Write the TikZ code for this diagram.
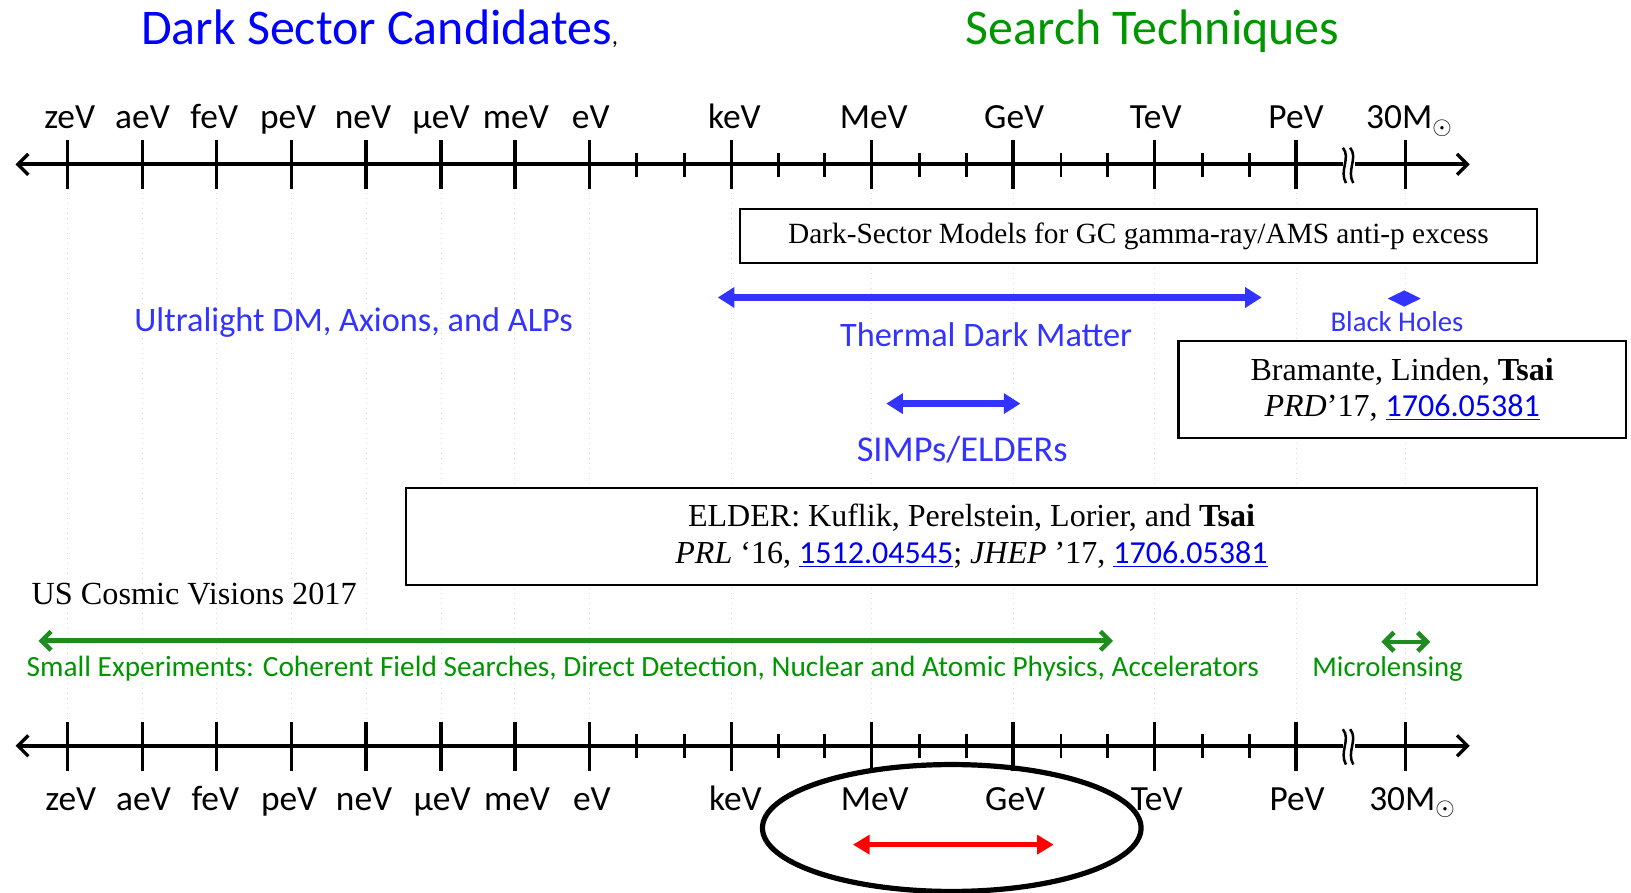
\documentclass[tikz,border=0pt]{standalone}
\usepackage{fontspec}
\setmainfont{Liberation Serif}
\newfontfamily\calib{Carlito}
\usetikzlibrary{arrows.meta,shapes.geometric}
\definecolor{dsblue}{RGB}{0,0,255}
\definecolor{lblue}{RGB}{51,51,255}
\definecolor{stgreen}{RGB}{0,150,0}
\definecolor{arrgreen}{RGB}{30,140,30}
\definecolor{linkblue}{RGB}{0,0,238}
\newcommand{\lnk}[1]{\textcolor{linkblue}{\underline{\calib #1}}}
\begin{document}
\begin{tikzpicture}[x=0.5pt,y=-0.5pt,
  axisline/.style={line width=1.9pt,
    {Straight Barb[length=5pt,width=10pt,line width=1.6pt]}-{Straight Barb[length=5pt,width=10pt,line width=1.6pt]}},
  majortick/.style={line width=1.6pt},
  minortick/.style={line width=1.4pt},
  gridline/.style={black!14, dotted, line width=0.4pt},
  unitlabel/.style={anchor=base, inner sep=0pt, font=\calib\fontsize{17}{20}\selectfont},
  heading/.style={anchor=base, inner sep=0pt, font=\calib\fontsize{24}{28}\selectfont},
  candlabel/.style={anchor=base, inner sep=0pt, text=lblue, font=\calib\fontsize{16.5}{20}\selectfont},
  smalllabel/.style={anchor=base, inner sep=0pt, font=\calib\fontsize{13.8}{16}\selectfont},
  refbox/.style={draw, line width=1pt, fill=white, align=center, inner sep=0pt,
    font=\fontsize{15.4}{17.5}\selectfont},
  bluearrow/.style={lblue, line width=3.2pt, {Triangle[length=8pt,width=9.5pt]}-{Triangle[length=8pt,width=9.5pt]}},
  greenarrow/.style={arrgreen, line width=2.2pt,
    {Straight Barb[length=4.5pt,width=9pt,line width=2.2pt]}-{Straight Barb[length=4.5pt,width=9pt,line width=2.2pt]}},
  redarrow/.style={red, line width=2.5pt, {Triangle[length=8pt,width=9pt]}-{Triangle[length=8pt,width=9pt]}},
]
\useasboundingbox (0,0) rectangle (1568,858);

% faint guide lines at the decade ticks
\foreach \x in {65,137,208,280,352,424,495,567,703,838,974,1110,1246,1351}
  \draw[gridline] (\x,186) -- (\x,692);

% headings
\node[heading, text=dsblue] (hcand) at (365,43) {Dark Sector Candidates\textcolor{black}{\fontsize{12}{12}\selectfont,}};
\node[heading, text=stgreen] (htech) at (1108,43) {Search Techniques};

% ---------- energy axes ----------
\foreach \ay/\nm in {158/top,717/bot}{
  \coordinate (\nm L) at (15,\ay);
  \coordinate (\nm R) at (1413,\ay);
  \draw[axisline] (\nm L) -- (\nm R);
  \foreach \x in {65,137,208,280,352,424,495,567,703,838,974,1110,1246,1351}
    \draw[majortick] (\x,\ay-23) -- (\x,\ay+24);
  \foreach \x in {612,658,748,793,884,929,1020,1065,1156,1201}
    \draw[minortick] (\x,\ay-11) -- (\x,\ay+12);
  % axis break
  \fill[white] (1291,\ay-14) rectangle (1303,\ay+14);
  \draw[line width=1.2pt] (1291,\ay-16) .. controls (1299,\ay-6) and (1287,\ay+6) .. (1294,\ay+18);
  \draw[line width=1.2pt] (1298,\ay-16) .. controls (1306,\ay-6) and (1294,\ay+6) .. (1301,\ay+18);
}

% unit labels, above the top axis and below the bottom axis
\foreach \x/\u [count=\i] in {67/zeV,137/aeV,206/feV,277/peV,349/neV,424/µeV,496/meV,568/eV,706/keV,840/MeV,975/GeV,1111/TeV,1246/PeV}{
  \node[unitlabel] (tu\i) at (\x,124) {\u};
  \node[unitlabel] (bu\i) at (\x+1,779) {\u};
}
\node[unitlabel] (tu14) at (1355,124) {30M$_{\odot}$};
\node[unitlabel] (bu14) at (1358,779) {30M$_{\odot}$};

% ---------- dark sector candidates ----------
\node[refbox, minimum width=383.5pt, minimum height=26pt, font=\fontsize{14.1}{17}\selectfont] (gcbox) at (1094.5,227)
  {Dark-Sector Models for GC gamma-ray/AMS anti-p excess};

\node[candlabel] (ulight) at (340,319) {Ultralight DM, Axions, and ALPs};

\coordinate (thL) at (690,286);
\coordinate (thR) at (1213,286);
\draw[bluearrow] (thL) -- (thR);
\node[candlabel] (thermal) at (948,333) {Thermal Dark Matter};

\node[diamond, fill=lblue, aspect=2, minimum width=16pt, minimum height=8pt, inner sep=0pt] (bhmark) at (1350,287) {};
\node[smalllabel, text=lblue] (bh) at (1343,319) {Black Holes};

\node[refbox, minimum width=215pt, minimum height=46.5pt] (bramante) at (1348,374.5)
  {Bramante, Linden, \textbf{Tsai}\\ \textit{PRD}'17, \lnk{1706.05381}};

\coordinate (siL) at (852,388);
\coordinate (siR) at (981,388);
\draw[bluearrow] (siL) -- (siR);
\node[candlabel, font=\calib\fontsize{17.5}{20}\selectfont] (simps) at (925,444) {SIMPs/ELDERs};

\node[refbox, minimum width=544pt, minimum height=46.5pt] (elder) at (934,515.5)
  {ELDER: Kuflik, Perelstein, Lorier, and \textbf{Tsai}\\
   \textit{PRL} `16, \lnk{1512.04545}; \textit{JHEP} '17, \lnk{1706.05381}};

% ---------- search techniques ----------
\node[anchor=base west, inner sep=0pt, font=\fontsize{15.5}{18}\selectfont] (cosmic) at (30,581) {US Cosmic Visions 2017};

\coordinate (seL) at (37,616);
\coordinate (seR) at (1070,616);
\draw[greenarrow] (seL) -- (seR);
\node[smalllabel, text=stgreen, font=\calib\fontsize{14.1}{16}\selectfont] (smallexp) at (618,650)
  {Small Experiments: Coherent Field Searches, Direct Detection, Nuclear and Atomic Physics, Accelerators};

\coordinate (mlL) at (1328,617);
\coordinate (mlR) at (1375,617);
\draw[greenarrow] (mlL) -- (mlR);
\node[smalllabel, text=stgreen] (micro) at (1334,650) {Microlensing};

% ---------- highlighted MeV--GeV window ----------
\node[ellipse, draw, line width=2.5pt, minimum width=182pt, minimum height=61pt, inner sep=0pt] (focus) at (915,796) {};
\coordinate (rdL) at (820,812);
\coordinate (rdR) at (1013,812);
\draw[redarrow] (rdL) -- (rdR);
\end{tikzpicture}
\end{document}
